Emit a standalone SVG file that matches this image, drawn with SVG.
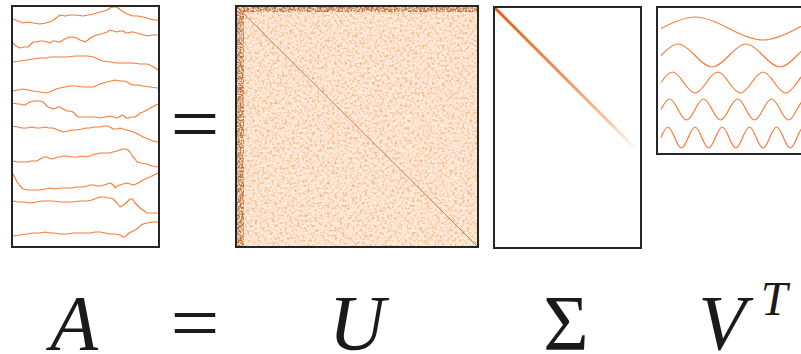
<svg xmlns="http://www.w3.org/2000/svg" width="801" height="354" viewBox="0 0 801 354">
<style>
.frame{fill:none;stroke:#262626;stroke-width:2}
.ts{fill:none;stroke:#f47c3c;stroke-width:1.1;stroke-linejoin:round}
.wv{fill:none;stroke:#f47c3c;stroke-width:1.2}
</style>
<defs>
<filter id="noiseU" x="236" y="6" width="242" height="241" filterUnits="userSpaceOnUse">
<feTurbulence type="fractalNoise" baseFrequency="0.4" numOctaves="2" seed="7" result="t"/>
<feColorMatrix in="t" type="matrix" values="0 0 0 0 0.9  0 0 0 0 0.42  0 0 0 0 0.16  2.6 0 0 0 -1.2" result="c"/>
<feComposite in="c" in2="SourceGraphic" operator="in"/>
</filter>
<filter id="noiseD" x="236" y="6" width="242" height="241" filterUnits="userSpaceOnUse">
<feTurbulence type="fractalNoise" baseFrequency="0.55" numOctaves="2" seed="3" result="t"/>
<feColorMatrix in="t" type="matrix" values="0 0 0 0 0.5  0 0 0 0 0.15  0 0 0 0 0.04  3.4 0 0 0 -1.2" result="c"/>
<feComposite in="c" in2="SourceGraphic" operator="in"/>
</filter>
<linearGradient id="sg" gradientUnits="userSpaceOnUse" x1="495" y1="8" x2="638" y2="150">
<stop offset="0" stop-color="#ee5a12"/>
<stop offset="0.45" stop-color="#f58a4e"/>
<stop offset="0.8" stop-color="#fcc7a4"/>
<stop offset="1" stop-color="#ffffff"/>
</linearGradient>
<clipPath id="cA"><rect x="12" y="6" width="147" height="241"/></clipPath>
<clipPath id="cV"><rect x="657" y="7" width="160" height="147"/></clipPath>
</defs>

<g id="matrixA">
<rect x="12" y="6" width="147" height="241" fill="#ffffff"/>
<g clip-path="url(#cA)">
<path class="ts" d="M13,19 L18,21 L23,23 L28,22 L33,23 L40,24 L46,23 L52,21 L56,18 L60,15 L65,16 L70,15 L76,15 L83,16 L88,15 L93,14 L97,13 L100,12 L104,11 L107,10 L110,8 L113,7 L116,7 L118,8 L122,11 L127,14 L130,15 L133,16 L138,16 L143,17 L147,18 L150,19 L154,20 L158,20"/>
<path class="ts" d="M13,43 L16,46 L20,48 L24,47 L28,47 L31,44 L33,42 L36,42 L40,41 L43,41 L47,42 L50,43 L53,41 L55,41 L58,42 L60,42 L63,40 L67,38 L70,37 L73,37 L77,38 L80,40 L83,41 L85,42 L88,40 L90,38 L94,36 L97,35 L101,34 L104,33 L107,32 L110,30 L113,31 L117,32 L120,31 L123,31 L126,33 L128,33 L131,32 L133,32 L137,33 L140,34 L144,35 L147,36 L152,35 L158,35"/>
<path class="ts" d="M13,62 L20,61 L27,60 L33,59 L40,58 L46,58 L50,57 L58,57 L67,57 L75,56 L83,56 L88,56 L93,57 L98,59 L103,61 L110,62 L117,63 L125,63 L133,63 L140,64 L147,64 L152,66 L155,68 L158,70"/>
<path class="ts" d="M13,91 L18,90 L23,89 L28,90 L33,91 L40,92 L47,93 L52,91 L56,89 L60,88 L65,87 L70,86 L76,86 L83,87 L88,87 L93,87 L98,85 L103,83 L107,82 L111,81 L115,80 L120,81 L124,81 L127,82 L130,84 L133,85 L138,85 L143,86 L150,87 L158,88"/>
<path class="ts" d="M13,103 L17,104 L20,104 L23,105 L25,105 L28,103 L30,102 L34,101 L37,101 L40,101 L43,102 L46,105 L48,107 L51,108 L53,109 L56,108 L58,107 L60,107 L63,109 L67,111 L70,111 L73,112 L76,115 L78,117 L83,117 L87,117 L90,117 L95,117 L100,118 L105,117 L110,116 L114,117 L117,118 L119,117 L122,115 L124,116 L126,118 L128,118 L131,117 L135,117 L138,115 L140,113 L143,112 L147,110 L152,107 L158,104"/>
<path class="ts" d="M13,126 L18,127 L22,128 L27,128 L32,127 L36,128 L40,128 L45,127 L49,128 L53,128 L58,130 L63,132 L68,131 L72,130 L77,130 L82,129 L86,128 L90,128 L95,127 L100,127 L104,126 L107,126 L110,127 L113,129 L117,129 L120,128 L123,129 L127,130 L130,131 L133,132 L138,134 L143,137 L148,139 L153,141 L158,142"/>
<path class="ts" d="M13,161 L17,162 L20,162 L24,162 L27,162 L31,161 L34,161 L37,161 L40,159 L42,158 L44,157 L47,157 L49,158 L52,159 L55,158 L58,157 L60,157 L63,156 L67,156 L72,157 L77,157 L82,156 L87,157 L90,156 L92,155 L96,154 L100,153 L105,153 L110,153 L113,152 L117,151 L120,150 L123,149 L126,149 L128,150 L130,152 L132,155 L133,157 L135,159 L137,162 L141,163 L147,164 L152,166 L158,167"/>
<path class="ts" d="M13,174 L15,178 L17,182 L20,186 L23,189 L28,190 L33,190 L40,190 L45,189 L50,188 L55,189 L60,188 L67,188 L72,188 L77,187 L83,187 L87,186 L90,185 L94,185 L97,186 L100,186 L104,185 L107,184 L110,183 L112,184 L114,186 L115,188 L117,186 L120,185 L123,184 L127,183 L130,184 L133,185 L136,184 L140,182 L143,180 L147,178 L150,177 L154,175 L158,173"/>
<path class="ts" d="M13,201 L18,202 L24,202 L30,203 L36,202 L42,201 L47,201 L53,201 L60,202 L67,202 L73,202 L80,201 L87,201 L92,200 L97,198 L100,197 L104,197 L107,198 L110,198 L113,199 L115,201 L117,203 L120,207 L122,206 L125,204 L127,202 L130,199 L132,199 L133,200 L135,203 L137,205 L140,208 L143,210 L147,213 L152,213 L158,213"/>
<path class="ts" d="M13,236 L20,235 L27,234 L33,233 L40,233 L45,232 L50,233 L55,233 L60,234 L67,234 L73,233 L78,233 L83,233 L90,233 L95,232 L100,232 L105,233 L110,234 L115,234 L120,235 L123,237 L126,236 L129,233 L133,231 L137,229 L140,226 L143,224 L147,223 L152,222 L158,222"/>
</g>
<rect class="frame" x="12" y="6" width="147" height="241"/>
</g>

<g id="eq-top">
<text x="195" y="150" text-anchor="middle" font-family="'Liberation Serif', serif" font-size="78" fill="#1a1a1a" textLength="49" lengthAdjust="spacingAndGlyphs">=</text>
</g>

<g id="matrixU">
<rect x="236" y="6" width="242" height="241" fill="#fdeadb"/>
<rect x="236" y="6" width="242" height="241" fill="#000" filter="url(#noiseU)"/>
<g filter="url(#noiseD)">
<rect x="236" y="6" width="8" height="241" fill="#000"/>
<rect x="244" y="6" width="234" height="6" fill="#000"/>
</g>
<line x1="237" y1="7" x2="477" y2="246" stroke="#b4542a" stroke-width="1" opacity="0.7"/>
<rect class="frame" x="236" y="6" width="242" height="241"/>
</g>

<g id="matrixSigma">
<rect x="494" y="7" width="147" height="241" fill="#ffffff"/>
<line x1="495" y1="8" x2="638" y2="151" stroke="url(#sg)" stroke-width="3"/>
<rect class="frame" x="494" y="7" width="147" height="241"/>
</g>

<g id="matrixVT">
<rect x="657" y="7" width="160" height="147" fill="#ffffff"/>
<g clip-path="url(#cV)">
<path class="wv" d="M661,28.5 c28.86,-15.33 39.14,-15.33 68,0 s39.14,15.33 68,0 s39.14,-15.33 68,0"/>
<path class="wv" d="M661,55.5 c14.43,-15.33 19.57,-15.33 34,0 s19.57,15.33 34,0 s19.57,-15.33 34,0 s19.57,15.33 34,0 s19.57,-15.33 34,0"/>
<path class="wv" d="M661,82.5 c9.62,-14 13.05,-14 22.67,0 s13.05,14 22.67,0 s13.05,-14 22.67,0 s13.05,14 22.67,0 s13.05,-14 22.67,0 s13.05,14 22.67,0 s13.05,-14 22.67,0"/>
<path class="wv" d="M661,109.5 c7.21,-14 9.79,-14 17,0 s9.79,14 17,0 s9.79,-14 17,0 s9.79,14 17,0 s9.79,-14 17,0 s9.79,14 17,0 s9.79,-14 17,0 s9.79,14 17,0 s9.79,-14 17,0"/>
<path class="wv" d="M661,137.5 c5.77,-14 7.83,-14 13.6,0 s7.83,14 13.6,0 s7.83,-14 13.6,0 s7.83,14 13.6,0 s7.83,-14 13.6,0 s7.83,14 13.6,0 s7.83,-14 13.6,0 s7.83,14 13.6,0 s7.83,-14 13.6,0 s7.83,14 13.6,0 s7.83,-14 13.6,0 s7.83,14 13.6,0"/>
</g>
<rect class="frame" x="657" y="7" width="160" height="147"/>
</g>

<g id="labels" fill="#1a1a1a" font-size="78" font-family="'Liberation Serif', serif">
<text x="74" y="349" text-anchor="middle" font-style="italic">A</text>
<text x="195" y="349" text-anchor="middle" textLength="49" lengthAdjust="spacingAndGlyphs">=</text>
<text x="357" y="349" text-anchor="middle" font-style="italic">U</text>
<text x="566" y="349" text-anchor="middle">Σ</text>
<text x="722" y="349" text-anchor="middle" font-style="italic">V</text>
<text x="774" y="315" text-anchor="middle" font-style="italic" font-size="48">T</text>
</g>
</svg>
